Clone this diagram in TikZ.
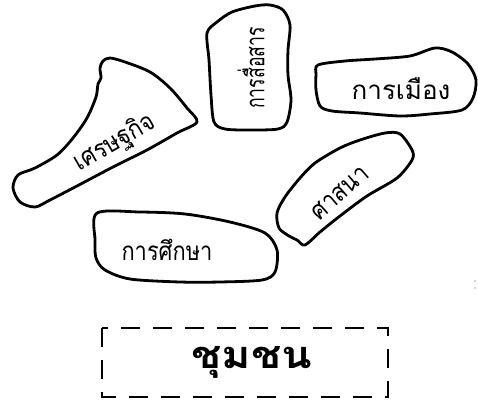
\documentclass[tikz,border=0pt]{standalone}
\usepackage{fontspec}
\newfontfamily\thaifont[Script=Thai]{Loma}
\usepackage{tikz}

\begin{document}
\begin{tikzpicture}[x=1pt,y=-1pt,
    blob/.style={line width=2.8pt,line join=round},
    lbl/.style={font=\thaifont\fontsize{26}{30}\selectfont,inner sep=0pt},
    hub/.style={line width=2.8pt,dash pattern=on 19pt off 13pt}]
  \useasboundingbox (0,0) rectangle (478,403);
  % topic shapes
  \draw[blob] plot[smooth cycle,tension=0.5] coordinates {(110,58) (125,62) (150,72)
    (170,88) (187,108) (197,122) (177,133) (147,150) (113,167) (77,186) (50,200)
    (35,207) (20,202) (13,188) (18,175) (35,168) (57,155) (73,138) (87,118) (96,97)
    (98,84) (101,78) (100,68) (103,61)};
  \draw[blob] plot[smooth cycle,tension=0.5] coordinates {(217,22) (232,12) (255,6)
    (270,5) (283,10) (290,25) (288,50) (288,75) (291,100) (287,122) (278,129)
    (250,130) (225,129) (214,122) (211,95) (209,60) (207,33)};
  \draw[blob] plot[smooth cycle,tension=0.5] coordinates {(318,65) (345,61) (375,59)
    (410,56) (435,48) (452,52) (468,64) (476,80) (473,98) (462,110) (430,114)
    (400,116) (360,113) (332,111) (320,106) (316,90) (316,75)};
  \draw[blob] plot[smooth cycle,tension=0.5] coordinates {(340,148) (360,140) (385,133)
    (400,134) (412,150) (412,160) (397,178) (367,196) (340,216) (320,232) (305,245)
    (297,240) (289,236) (279,228) (277,213) (285,197) (300,178) (315,163)};
  \draw[blob] plot[smooth cycle,tension=0.5] coordinates {(97,213) (140,212) (185,214)
    (230,222) (265,233) (277,250) (275,272) (262,280) (220,282) (180,282) (130,279)
    (105,270) (96,258) (95,240)};
  \node[lbl,rotate=30,xscale=0.88] (econ) at (115,143) {เศรษฐกิจ};
  \node[lbl,rotate=90,xscale=0.68] (comm) at (251,68) {การสื่อสาร};
  \node[lbl] (pol) at (401,89) {การเมือง};
  \node[lbl,rotate=41,xscale=0.86] (rel) at (340,193) {ศาสนา};
  \node[lbl,xscale=0.84] (edu) at (167,250) {การศึกษา};
  % community box
  \draw[hub] (102,328) rectangle (388,397);
  \node[font=\thaifont\bfseries\fontsize{38}{42}\selectfont,xscale=1.18] (comty) at (252,362) {ชุมชน};
  \fill[gray!70] (475,281) circle (0.9pt) (475,288) circle (0.9pt);
\end{tikzpicture}
\end{document}
